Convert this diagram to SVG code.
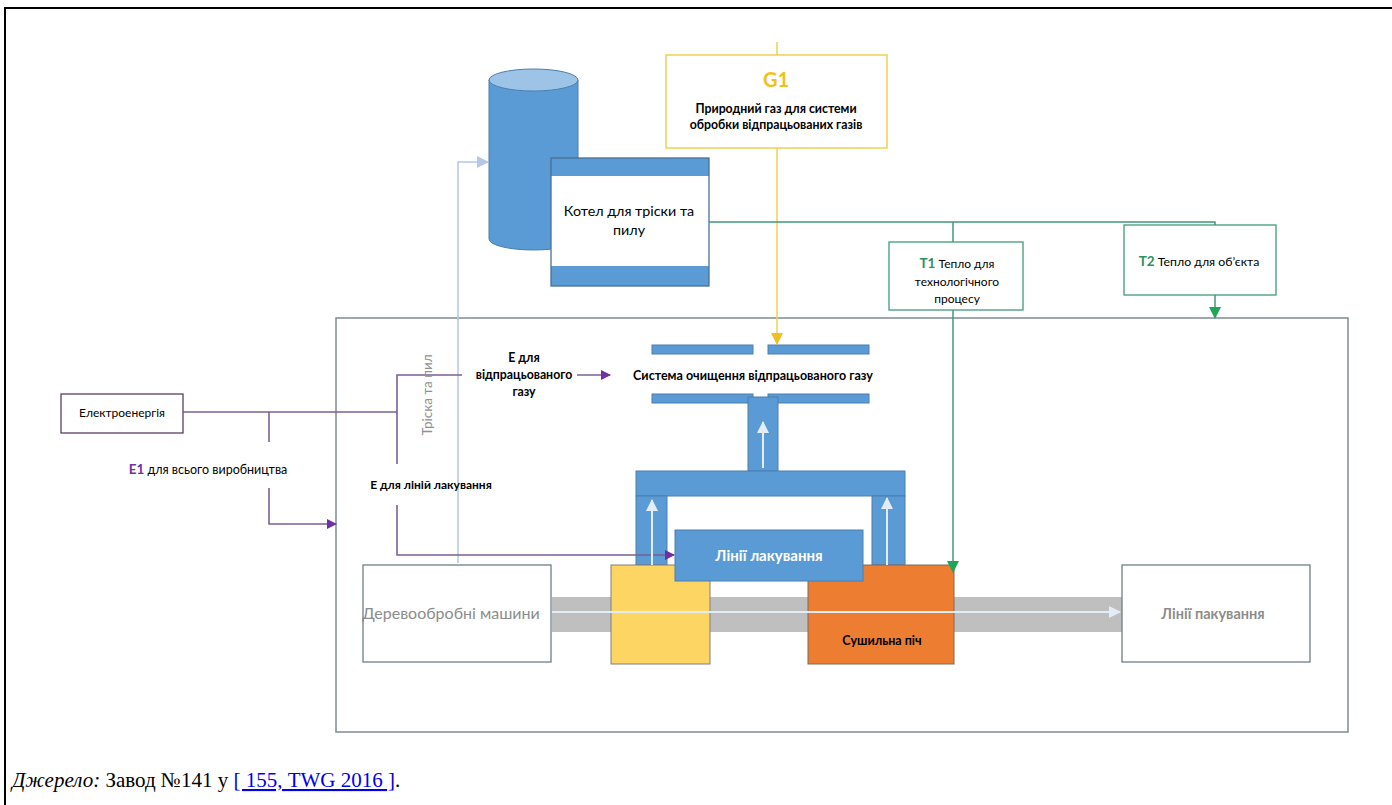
<svg xmlns="http://www.w3.org/2000/svg" width="1392" height="805" viewBox="0 0 1392 805">
<style>
.f{font-family:Lato,"Open Sans","Liberation Sans",sans-serif}
.b{font-weight:bold}
.blue{fill:#5b9bd5;stroke:#4a7fb0;stroke-width:1}
.box{fill:#ffffff;stroke:#6f7f86;stroke-width:1.3}
.pl{fill:none;stroke:#7e5f93;stroke-width:1.6}
.gl{fill:none;stroke:#3f9a77;stroke-width:1.5}
.yl{fill:none;stroke:#f2d25a;stroke-width:1.6}
.wl{fill:none;stroke:#e3edf7;stroke-width:2}
</style>
<defs>
<marker id="ap" markerWidth="10" markerHeight="10" refX="9" refY="5" orient="auto" markerUnits="userSpaceOnUse"><path d="M0,0 L10,5 L0,10 Z" fill="#7030a0"/></marker>
<marker id="ag" markerWidth="12" markerHeight="12" refX="11" refY="6" orient="auto" markerUnits="userSpaceOnUse"><path d="M0,0 L12,6 L0,12 Z" fill="#1fa55a"/></marker>
<marker id="ay" markerWidth="12" markerHeight="12" refX="11" refY="6" orient="auto" markerUnits="userSpaceOnUse"><path d="M0,0 L12,6 L0,12 Z" fill="#f0c020"/></marker>
<marker id="alb" markerWidth="12" markerHeight="12" refX="11" refY="6" orient="auto" markerUnits="userSpaceOnUse"><path d="M0,0 L12,6 L0,12 Z" fill="#b4c7e7"/></marker>
<marker id="aw" markerWidth="12" markerHeight="12" refX="11" refY="6" orient="auto" markerUnits="userSpaceOnUse"><path d="M0,0 L12,6 L0,12 Z" fill="#e3edf7"/></marker>
</defs>
<rect width="1392" height="805" fill="#ffffff"/>
<path d="M5,805 V8 H1392" fill="none" stroke="#000" stroke-width="2"/>

<g id="frame"><rect x="336" y="318" width="1012" height="414" fill="none" stroke="#7f8b90" stroke-width="1.5"/></g>

<g id="conveyor">
<rect x="552" y="597" width="570" height="35" fill="#bfbfbf"/>
</g>

<g id="wood"><rect x="363" y="565" width="188" height="97" class="box"/>
<text x="451" y="619" class="f" font-size="16" fill="#8c8c8c" text-anchor="middle">Деревообробні машини</text></g>

<g id="pack"><rect x="1122" y="565" width="188" height="97" class="box"/>
<text x="1213" y="619" class="f b" font-size="14.5" fill="#8c8c8c" text-anchor="middle">Лінії пакування</text></g>

<g id="cleaning">
<rect x="652" y="345" width="101" height="9" class="blue"/>
<rect x="768" y="345" width="101" height="9" class="blue"/>
<rect x="652" y="394" width="101" height="9" class="blue"/>
<rect x="768" y="394" width="101" height="9" class="blue"/>
<rect x="748" y="397" width="30" height="74" class="blue"/>
<rect x="636" y="471" width="269" height="25" class="blue"/>
<rect x="636" y="496" width="31" height="69" class="blue"/>
<rect x="872" y="496" width="33" height="69" class="blue"/>
<text x="753" y="380" class="f b" font-size="12.5" fill="#000" text-anchor="middle">Система очищення відпрацьованого газу</text>
</g>

<g id="yellow"><rect x="611" y="565" width="99" height="99" fill="#fdd562" stroke="#7f7f7f" stroke-width="1"/></g>
<g id="dryer"><rect x="808" y="565" width="146" height="99" fill="#ed7d31" stroke="#7f6a5a" stroke-width="1"/>
<text x="882" y="645" class="f b" font-size="12.5" fill="#000" text-anchor="middle">Сушильна піч</text></g>

<g id="lacquer"><rect x="675" y="530" width="188" height="51" class="blue"/>
<text x="769" y="561" class="f b" font-size="15" fill="#ffffff" text-anchor="middle">Лінії лакування</text></g>

<g id="silo">
<path d="M489,80 V239 A44.5,11 0 0 0 578,239 V80 Z" class="blue"/>
<ellipse cx="533.5" cy="80" rx="44.5" ry="11" fill="#9dc3e6" stroke="#4a7fb0" stroke-width="1"/>
</g>

<g id="boiler">
<rect x="551" y="158" width="158" height="128" fill="#fff"/>
<rect x="551" y="158" width="158" height="18" fill="#5b9bd5"/>
<rect x="551" y="266" width="158" height="20" fill="#5b9bd5"/>
<rect x="551" y="158" width="158" height="128" fill="none" stroke="#4a6f95" stroke-width="1.3"/>
<text x="629" y="216" class="f" font-size="14.3" fill="#000" text-anchor="middle">Котел для тріски та</text>
<text x="629" y="235" class="f" font-size="14.3" fill="#000" text-anchor="middle">пилу</text>
</g>

<g id="g1"><rect x="666" y="55" width="221" height="93" fill="#fff" stroke="#f2d25a" stroke-width="1.6"/>
<text x="776" y="87" class="f b" font-size="20" fill="#f0c020" text-anchor="middle">G1</text>
<text x="776" y="113" class="f b" font-size="12.3" fill="#000" text-anchor="middle">Природний газ для системи</text>
<text x="776" y="129" class="f b" font-size="12.3" fill="#000" text-anchor="middle">обробки відпрацьованих газів</text></g>

<g id="t1"><rect x="889" y="242" width="134" height="68" fill="#fff" stroke="#3f9a77" stroke-width="1.3"/>
<text x="957" y="268" class="f" font-size="12" fill="#000" text-anchor="middle"><tspan class="b" fill="#2f8f60" font-size="13.5">T1</tspan> Тепло для</text>
<text x="957" y="286" class="f" font-size="12" fill="#000" text-anchor="middle">технологічного</text>
<text x="957" y="303" class="f" font-size="12" fill="#000" text-anchor="middle">процесу</text></g>

<g id="t2"><rect x="1124" y="225" width="152" height="70" fill="#fff" stroke="#3f9a77" stroke-width="1.3"/>
<text x="1199" y="266" class="f" font-size="12.3" fill="#000" text-anchor="middle"><tspan class="b" fill="#2f8f60" font-size="13.5">T2</tspan> Тепло для об’єкта</text></g>

<g id="elec"><rect x="61" y="394" width="122" height="39" fill="#fff" stroke="#5a4060" stroke-width="1.3"/>
<text x="122" y="417" class="f" font-size="12" fill="#000" text-anchor="middle">Електроенергія</text></g>

<g id="connectors">
<path d="M458,563 V162 H488" fill="none" stroke="#b4c7e7" stroke-width="1.5" marker-end="url(#alb)"/>
<path d="M183,412 H397" class="pl"/>
<path d="M269,412 V442" class="pl"/>
<path d="M269,488 V524 H336" class="pl" marker-end="url(#ap)"/>
<path d="M397,464 V375 H462" class="pl"/>
<path d="M397,505 V555 H674" class="pl" marker-end="url(#ap)"/>
<path d="M577,375 H610" class="pl" marker-end="url(#ap)"/>
<path d="M777,42 V55" class="yl"/>
<path d="M777,148 V344" class="yl" marker-end="url(#ay)"/>
<path d="M709,222 H1215 V225" class="gl"/>
<path d="M953,222 V242" class="gl"/>
<path d="M953,310 V572" class="gl" marker-end="url(#ag)"/>
<path d="M1215,295 V318" class="gl" marker-end="url(#ag)"/>
<path d="M763,468 V422" class="wl" marker-end="url(#aw)"/>
<path d="M652,565 V500" class="wl" marker-end="url(#aw)"/>
<path d="M887,565 V498" class="wl" marker-end="url(#aw)"/>
<path d="M552,612 H1120" class="wl" marker-end="url(#aw)"/>
</g>

<g id="labels">
<text transform="translate(432,395) rotate(-90)" class="f" font-size="13.5" fill="#909090" text-anchor="middle">Тріска та пил</text>
<text x="524" y="362" class="f b" font-size="12.3" fill="#000" text-anchor="middle">Е для</text>
<text x="524" y="379" class="f b" font-size="12.3" fill="#000" text-anchor="middle">відпрацьованого</text>
<text x="524" y="396" class="f b" font-size="12.3" fill="#000" text-anchor="middle">газу</text>
<text x="431" y="489" class="f b" font-size="12" fill="#000" text-anchor="middle">Е для ліній лакування</text>
<text x="208" y="474" class="f" font-size="12.5" fill="#000" text-anchor="middle"><tspan class="b" fill="#7030a0" font-size="13.5">E1</tspan> для всього виробництва</text>
</g>

<text x="12" y="787" font-family="Liberation Serif,serif" font-size="21" fill="#000"><tspan font-style="italic">Джерело:</tspan> Завод №141 у <tspan fill="#0000ee" text-decoration="underline">[ 155, TWG 2016 ]</tspan>.</text>
</svg>
